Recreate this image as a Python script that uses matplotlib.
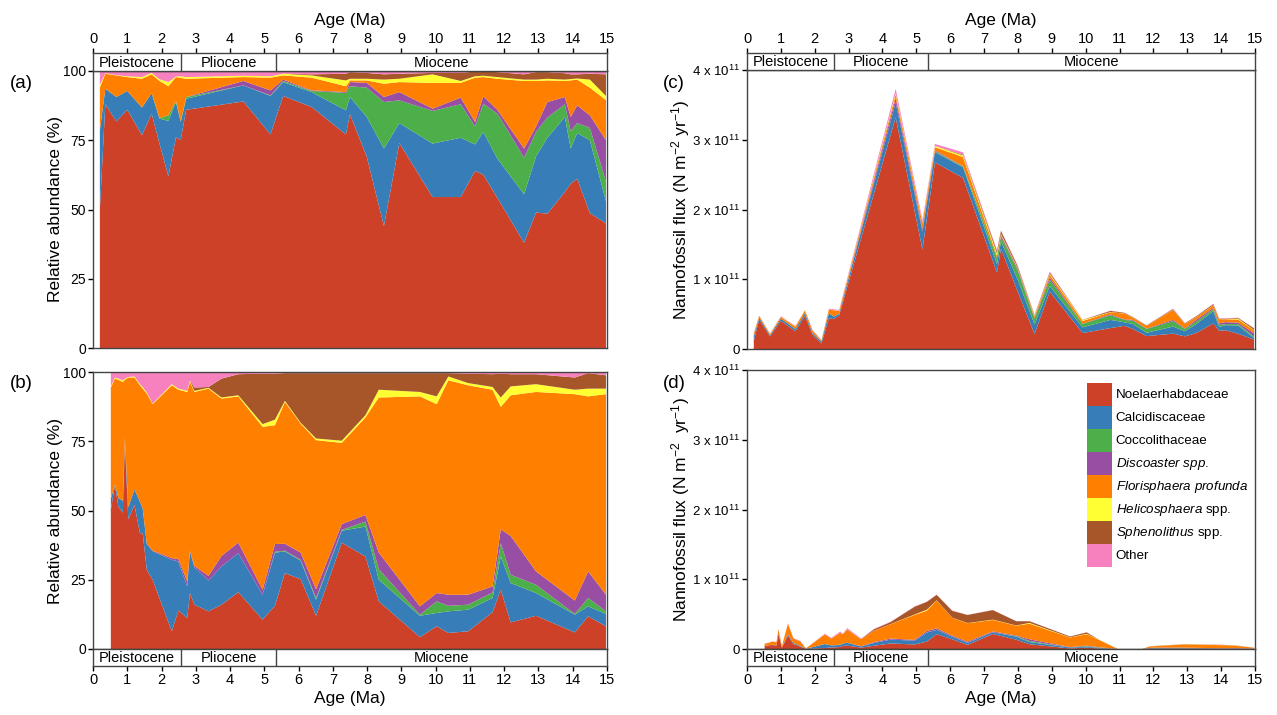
import matplotlib
matplotlib.use("Agg")
import matplotlib.pyplot as plt
import numpy as np
from matplotlib.patches import Patch

plt.rcParams['font.family'] = ['Liberation Sans', 'DejaVu Sans']
plt.rcParams['mathtext.fontset'] = 'custom'
plt.rcParams['mathtext.rm'] = 'Liberation Sans'
plt.rcParams['mathtext.it'] = 'Liberation Sans:italic'
plt.rcParams['mathtext.bf'] = 'Liberation Sans:bold'

# ---------------- site 1 : panels (a) and (c) ----------------
ages_1 = [0.20, 0.36, 0.68, 1.00, 1.43, 1.71, 1.94, 2.20, 2.42, 2.56, 2.72,
          4.39, 5.18, 5.55, 6.38, 7.38, 7.50, 7.99, 8.49, 8.94, 9.91, 10.73,
          11.15, 11.39, 11.80, 12.58, 12.93, 13.26, 13.77, 13.94, 14.13, 14.50, 14.97]
noel_1 = [50, 88, 81.8, 86, 76.8, 84.6, 73.8, 62, 76, 75.2, 86, 89, 77.1, 91, 87,
          77.1, 84.4, 69, 44, 74, 54.5, 54.5, 63.9, 62.6, 54.2, 38, 48.9, 48.5,
          56.3, 59.3, 61.1, 48.7, 45]
calc_1 = [28.6, 5.6, 8.8, 6.8, 10, 7.4, 9, 20, 12.8, 6.4, 4, 5.8, 13.9, 5, 5.4,
          8.7, 6.2, 14.4, 28, 7.2, 19.3, 21.4, 9.6, 15.4, 14.2, 17.5, 20.3, 27.4,
          27.1, 12.7, 16.5, 26.3, 8]
cocc_1 = [0, 0, 0, 0, 0, 0, 0.2, 2, 0.5, 0.2, 0.6, 0, 0.2, 0.4, 0.4, 6.3, 3.9,
          10.6, 16.8, 8.2, 11.8, 12.1, 6.5, 10.2, 16.2, 13.2, 8.8, 7.3, 4.6, 6.3,
          3.6, 4.5, 7]
disc_1 = [0, 0, 0, 0, 0, 0, 0, 0, 0, 0, 0, 1.6, 1.8, 0.5, 0.2, 0.3, 1.5, 1.7,
          1.8, 3, 0.8, 2.4, 1.6, 2.7, 1.4, 3.3, 2, 5.6, 2.6, 5.1, 6.4, 4.5, 15]
flor_1 = [15.4, 5.4, 7.8, 5, 10.4, 6.8, 13.4, 10.5, 8.5, 15.7, 6.6, 1.4, 4.6,
          1.5, 4.6, 2.1, 0.6, 0.9, 4.8, 3.6, 9.3, 5.3, 16, 6.9, 11.2, 24.4, 16.4,
          7.8, 5.8, 13.2, 9.3, 10, 14.5]
heli_1 = [1, 0.2, 0.1, 0.3, 0.6, 0.5, 0.6, 1.5, 0.2, 0.6, 0.6, 0.5, 0.5, 0.6,
          0.8, 2.1, 0.6, 0.6, 1.5, 1.2, 3.1, 0.7, 0.5, 0.5, 0.6, 0.5, 0.5, 0.6,
          0.5, 0.5, 0.4, 2.9, 1.5]
sphe_1 = [0, 0, 0, 0, 0, 0, 0, 0, 0, 0, 0, 0, 0, 0, 0.4, 2.4, 2.4, 2.1, 1.9,
          1.8, 0.5, 2.9, 1.7, 1.5, 1.8, 1.9, 2.7, 2.4, 2.3, 1.7, 1.5, 2.1, 7.8]
othe_1 = [5, 0.8, 1.5, 1.9, 2.2, 0.7, 3, 4, 2, 1.9, 2.2, 1.7, 1.9, 1, 1.2, 1,
          0.4, 0.7, 1.2, 1, 0.7, 0.7, 0.2, 0.2, 0.4, 1.2, 0.4, 0.4, 0.8, 1.2,
          1.2, 1, 1.2]
# total nannofossil flux, units of 1e11 N m-2 yr-1
flux_1 = [0.23, 0.48, 0.22, 0.47, 0.33, 0.56, 0.27, 0.13, 0.58, 0.57, 0.56,
          3.73, 1.85, 2.94, 2.82, 1.42, 1.70, 1.20, 0.49, 1.11, 0.42, 0.55,
          0.52, 0.46, 0.34, 0.58, 0.37, 0.47, 0.65, 0.44, 0.44, 0.45, 0.30]

# ---------------- site 2 : panels (b) and (d) ----------------
ages_2 = [0.52, 0.64, 0.74, 0.87, 0.93, 1.03, 1.21, 1.37, 1.45, 1.57, 1.74,
          2.30, 2.49, 2.75, 2.83, 2.96, 3.37, 3.75, 4.24, 4.95, 5.31, 5.60,
          6.06, 6.51, 7.26, 7.95, 8.34, 9.54, 10.03, 10.37, 10.95, 11.66,
          11.90, 12.19, 12.93, 14.06, 14.45, 14.97]
noel_2 = [50.2, 59.2, 51.4, 49.2, 75, 46.8, 52, 41.8, 41.8, 28.6, 25, 6.4, 13.9,
          11.2, 20.2, 16, 13.6, 16, 20.5, 10.6, 15.6, 27.4, 25.2, 12, 38.4, 33.4,
          17.2, 4.3, 8.2, 5.8, 6.4, 13.3, 21.4, 9.6, 12, 6, 11.8, 8.2]
calc_2 = [4.1, 0.2, 3.1, 4.3, 1.3, 4.4, 5.6, 11.4, 9, 9.4, 10.3, 25.8, 17.7,
          11.4, 15, 13.5, 11.1, 13.8, 14.1, 9, 19.2, 7.8, 6.7, 5.8, 4.3, 10.8,
          7.8, 7.7, 4.8, 7.8, 7.8, 5.1, 12, 14.2, 8.2, 6.4, 3.6, 4.5]
cocc_2 = [0, 0, 0, 0, 0, 0, 0, 0, 0, 0, 0, 0, 0, 0, 0, 0, 0, 0, 0, 0, 0.3, 0.3,
          0.3, 0.6, 0.3, 1.8, 3.8, 0.4, 4.2, 2, 1.8, 2, 4.8, 3, 3, 0.3, 3, 0.9]
disc_2 = [0, 0, 0, 0, 0, 0, 0, 0, 0, 0, 0.2, 0.6, 0.9, 1.8, 0.2, 0.5, 1.7, 3.8,
          3.8, 1.8, 2.8, 2.5, 2.6, 3.2, 2.1, 2.4, 6, 3, 3, 4, 3.6, 2.2, 5, 14,
          4.8, 4.8, 9.6, 6]
flor_2 = [40.1, 38.2, 42.7, 42.9, 20.9, 46.8, 40.4, 42, 43.2, 54.2, 52.9, 62.4,
          61.1, 68.4, 61, 62.8, 67.6, 56.8, 52.8, 58.8, 42.9, 51.2, 46.6, 53.8,
          29.3, 35.2, 56, 75.8, 68.2, 77.4, 75.6, 71, 44.2, 50.8, 64.8, 74.5,
          63.2, 72.4]
heli_2 = [0.4, 0.4, 0.4, 0.6, 0.4, 0.2, 0.4, 0.4, 0.6, 0.4, 0.2, 0.4, 0.4, 0.4,
          0.4, 0.4, 0.3, 0.4, 0.4, 1, 2, 0.4, 0.3, 0.6, 0.8, 0.8, 2.8, 1.6, 2.8,
          1.4, 0.8, 1, 3.4, 3.2, 2.8, 1.6, 2.8, 2]
sphe_2 = [0, 0, 0, 0, 0, 0, 0, 0, 0, 0, 0, 0, 0, 0, 0.2, 1.2, 0.3, 6.8, 7.6,
          18.2, 16.6, 10, 17.9, 23.6, 24.4, 15.2, 6, 6.8, 8.4, 1.2, 3.4, 4.6,
          8.6, 4.4, 3.6, 4.4, 5.6, 4.8]
othe_2 = [5.2, 2, 2.4, 3, 2.4, 1.8, 1.6, 4.4, 5.4, 7.4, 11.4, 4.4, 6, 6.8, 3,
          5.6, 5.4, 2.4, 0.8, 0.6, 0.6, 0.4, 0.4, 0.4, 0.4, 0.4, 0.4, 0.4, 0.4,
          0.4, 0.6, 0.8, 0.6, 0.8, 0.8, 2, 0.4, 1.2]
flux_2 = [0.08, 0.09, 0.11, 0.10, 0.29, 0.04, 0.37, 0.16, 0.14, 0.12, 0.01,
          0.22, 0.16, 0.25, 0.22, 0.30, 0.15, 0.29, 0.39, 0.61, 0.68, 0.78,
          0.55, 0.49, 0.56, 0.40, 0.40, 0.18, 0.24, 0.14, 0.0, 0.0, 0.04,
          0.05, 0.07, 0.06, 0.05, 0.02]

labels = ["Noelaerhabdaceae", "Calcidiscaceae", "Coccolithaceae",
          r"$\it{Discoaster\ spp.}$", r"$\it{Florisphaera\ profunda}$",
          r"$\it{Helicosphaera}$ spp.", r"$\it{Sphenolithus}$ spp.", "Other"]
colors = ["#CD4128", "#377EB8", "#4DAF4A", "#984EA3", "#FF7F00", "#FFFF33",
          "#A65628", "#F781BF"]

epochs = ["Pleistocene", "Pliocene", "Miocene"]
epoch_edges = [0, 2.58, 5.33, 15]

site_1 = [noel_1, calc_1, cocc_1, disc_1, flor_1, heli_1, sphe_1, othe_1]
site_2 = [noel_2, calc_2, cocc_2, disc_2, flor_2, heli_2, sphe_2, othe_2]

W, H = 1277, 715
fig = plt.figure(figsize=(W / 100, H / 100), dpi=100)
spine_col = "#444444"


def box(x0, y0, x1, y1):
    return [x0 / W, 1 - y1 / H, (x1 - x0) / W, (y1 - y0) / H]


def style(ax):
    for s in ax.spines.values():
        s.set_color(spine_col)
        s.set_linewidth(1)
    ax.tick_params(colors="black", labelsize=10.5, direction="out", length=3.5,
                   width=1, pad=1.5)


def band(ax, top):
    ax.set_xlim(0, 15)
    ax.set_ylim(0, 1)
    ax.set_yticks([])
    ax.set_xticks(range(16))
    style(ax)
    for e in epoch_edges[1:-1]:
        ax.axvline(e, color=spine_col, lw=1)
    for name, lo, hi in zip(epochs, epoch_edges[:-1], epoch_edges[1:]):
        ax.text((lo + hi) / 2, 0.45, name, ha="center", va="center",
                fontsize=10.5)
    if top:
        ax.xaxis.tick_top()
        ax.xaxis.set_label_position("top")
        ax.set_xlabel("Age (Ma)", fontsize=12.5, labelpad=5)
    else:
        ax.set_xlabel("Age (Ma)", fontsize=12.5, labelpad=3)


def main(ax, ages, series, ymax, ticks, ticklabels, ylabel):
    ax.stackplot(ages, *series, colors=colors, linewidth=0)
    ax.set_xlim(0, 15)
    ax.set_ylim(0, ymax)
    ax.set_xticks([])
    ax.set_yticks(ticks)
    ax.set_yticklabels(ticklabels)
    style(ax)
    ax.tick_params(pad=1.5, labelsize=10)
    ax.set_ylabel(ylabel, fontsize=12.5, labelpad=0)


flux_series_1 = [np.array(flux_1) * np.array(s) / 100 for s in site_1]
flux_series_2 = [np.array(flux_2) * np.array(s) / 100 for s in site_2]
pct_ticks = [0, 25, 50, 75, 100]
flux_ticks = [0, 1, 2, 3, 4]
flux_labels = ["0"] + [rf"{k} x 10$^{{11}}$" for k in flux_ticks[1:]]

# (a)
ax_a = fig.add_axes(box(93, 71, 607, 348))
main(ax_a, ages_1, site_1, 100, pct_ticks, [str(t) for t in pct_ticks],
     "Relative abundance (%)")
band(fig.add_axes(box(93, 53, 607, 71)), True)

# (b)
ax_b = fig.add_axes(box(93, 372, 607, 649))
main(ax_b, ages_2, site_2, 100, pct_ticks, [str(t) for t in pct_ticks],
     "Relative abundance (%)")
band(fig.add_axes(box(93, 649, 607, 666)), False)

# (c)
ax_c = fig.add_axes(box(747, 70, 1255, 349))
main(ax_c, ages_1, flux_series_1, 4, flux_ticks, flux_labels,
     r"Nannofossil flux (N m$^{-2}$ yr$^{-1}$)")
band(fig.add_axes(box(747, 53, 1255, 70)), True)

# (d)
ax_d = fig.add_axes(box(747, 370, 1255, 649))
main(ax_d, ages_2, flux_series_2, 4, flux_ticks, flux_labels,
     r"Nannofossil flux (N m$^{-2}$  yr$^{-1}$)")
band(fig.add_axes(box(747, 649, 1255, 666)), False)

for ax in (ax_c, ax_d):
    ax.tick_params(labelsize=9.5)

handles = [Patch(facecolor=c, edgecolor="none") for c in colors]
ax_d.legend(handles, labels, loc="upper left", bbox_to_anchor=(0.67, 0.955),
            frameon=False, fontsize=9.6, handlelength=1.875, handleheight=2.28,
            labelspacing=0, handletextpad=0.25, borderpad=0, borderaxespad=0)

for txt, x, y in [("(a)", 10, 83), ("(b)", 10, 383), ("(c)", 663, 83),
                  ("(d)", 663, 383)]:
    fig.text(x / W, 1 - y / H, txt, fontsize=13.5, va="center", ha="left")

fig.savefig("out.png", dpi=100)
